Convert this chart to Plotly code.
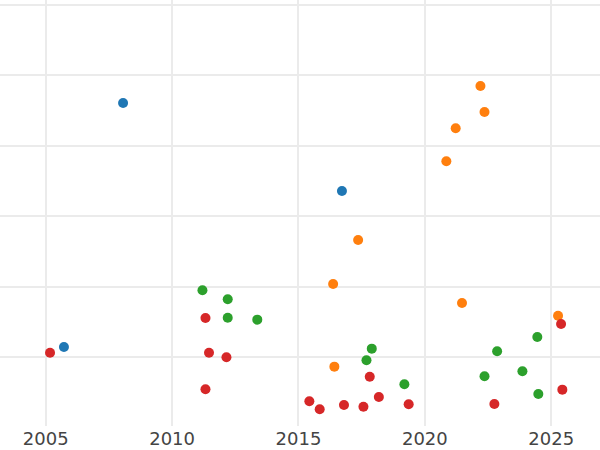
import plotly.graph_objects as go

blue_x = [2008.06, 2005.72, 2016.72]
blue_y = [36.07, 1.49, 23.6]

orange_x = [2022.20, 2022.36, 2021.22, 2020.85, 2017.36, 2016.37, 2021.47, 2025.27, 2016.42]
orange_y = [38.48, 34.79, 32.48, 27.81, 16.65, 10.42, 7.72, 5.92, -1.30]

green_x = [2011.20, 2012.20, 2012.20, 2013.37, 2017.90, 2017.69, 2019.19, 2022.86, 2024.45, 2022.36, 2023.86, 2024.49]
green_y = [9.52, 8.25, 5.64, 5.36, 1.25, -0.40, -3.80, 0.88, 2.91, -2.66, -1.96, -5.17]

red_x = [2005.17, 2011.32, 2011.46, 2012.15, 2011.32, 2015.43, 2015.84, 2016.80, 2017.57, 2017.82,
         2018.18, 2019.36, 2022.75, 2025.39, 2025.44]
red_y = [0.68, 5.60, 0.68, 0.03, -4.51, -6.21, -7.34, -6.73, -6.97, -2.72,
         -5.60, -6.63, -6.59, 4.75, -4.56]

series = [
    ("blue", blue_x, blue_y, "#1f77b4"),
    ("orange", orange_x, orange_y, "#ff7f0e"),
    ("green", green_x, green_y, "#2ca02c"),
    ("red", red_x, red_y, "#d62728"),
]

fig = go.Figure()
for name, xs, ys, col in series:
    fig.add_trace(go.Scatter(x=xs, y=ys, mode="markers", name=name,
                             marker=dict(color=col, size=10)))

fig.update_layout(
    width=600, height=450,
    margin=dict(l=0, r=0, t=0, b=24),
    paper_bgcolor="white", plot_bgcolor="white",
    showlegend=False,
    font=dict(family="DejaVu Sans", size=18, color="#444444"),
)
fig.update_xaxes(range=[2003.19, 2026.93], tickvals=[2005, 2010, 2015, 2020, 2025],
                 showgrid=True, gridcolor="#ebebeb", gridwidth=2, zeroline=False,
                 showline=False, ticks="", automargin=False)
fig.update_yaxes(range=[-9.71, 50.66], dtick=10, tick0=0, showticklabels=False,
                 showgrid=True, gridcolor="#ebebeb", gridwidth=2, zeroline=False,
                 showline=False, ticks="", automargin=False)

fig.write_html("out.html", config={"displayModeBar": False},
               post_script="document.body.style.margin='0px';")
